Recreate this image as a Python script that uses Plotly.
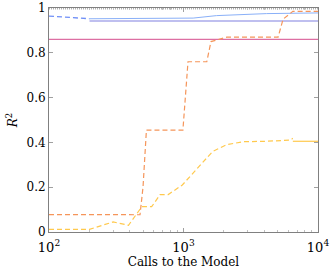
import plotly.graph_objects as go

# Blue (dashed part then solid part)
blue_dash_x = [100, 200]
blue_dash_y = [0.964, 0.952]
blue_x = [200, 600, 1180, 1760, 2500, 4150, 10000]
blue_y = [0.952, 0.952, 0.955, 0.966, 0.971, 0.975, 0.978]

purple_x = [200, 10000]
purple_y = [0.942, 0.942]

pink_x = [100, 10000]
pink_y = [0.86, 0.86]

gray_x = [100, 10000]
gray_y = [0.997, 0.997]

orange_x = [100, 475, 500, 530, 990, 1080, 1490, 1600, 2100, 5050, 5500, 6500, 7500, 10000]
orange_y = [0.078, 0.077, 0.2, 0.455, 0.455, 0.76, 0.76, 0.85, 0.87, 0.87, 0.95, 0.985, 0.985, 0.985]

yellow_x = [100, 200, 300, 390, 490, 580, 670, 770, 980, 1110, 1330, 1650, 2100, 2780, 4000, 6200, 6500]
yellow_y = [0.012, 0.012, 0.045, 0.03, 0.113, 0.113, 0.167, 0.167, 0.21, 0.247, 0.296, 0.36, 0.39, 0.403, 0.405, 0.41, 0.418]
yellow_solid_x = [6500, 10000]
yellow_solid_y = [0.405, 0.405]

DASH = "5px,3px"
fig = go.Figure()
fig.add_trace(go.Scatter(x=gray_x, y=gray_y, mode="lines", line=dict(color="#b0b0b0", width=1.5, dash="1px,1px")))
fig.add_trace(go.Scatter(x=pink_x, y=pink_y, mode="lines", line=dict(color="#dd6fa3", width=1.2)))
fig.add_trace(go.Scatter(x=purple_x, y=purple_y, mode="lines", line=dict(color="#8080e0", width=1.2)))
fig.add_trace(go.Scatter(x=blue_dash_x, y=blue_dash_y, mode="lines", line=dict(color="#6f8ff7", width=1.3, dash=DASH)))
fig.add_trace(go.Scatter(x=blue_x, y=blue_y, mode="lines", line=dict(color="#8ab0f8", width=1)))
fig.add_trace(go.Scatter(x=orange_x, y=orange_y, mode="lines", line=dict(color="#f5955a", width=1.2, dash=DASH)))
fig.add_trace(go.Scatter(x=yellow_x, y=yellow_y, mode="lines", line=dict(color="#ffc94d", width=1.2, dash=DASH)))
fig.add_trace(go.Scatter(x=yellow_solid_x, y=yellow_solid_y, mode="lines", line=dict(color="#ffc94d", width=1.2)))

font = "DejaVu Serif"
fig.update_layout(
    width=333, height=273,
    margin=dict(l=49, r=15, t=8, b=41, autoexpand=False),
    plot_bgcolor="white", paper_bgcolor="white",
    showlegend=False,
    font=dict(family=font, size=12, color="black"),
)
fig.update_xaxes(
    type="log", range=[2, 4], automargin=False,
    tickvals=[100, 1000, 10000], ticktext=["10<sup>2</sup>", "10<sup>3</sup>", "10<sup>4</sup>"],
    ticks="inside", ticklen=4, tickcolor="#a0a0a0", ticklabelstandoff=3,
    minor=dict(ticks="inside", ticklen=2, tickcolor="#c0c0c0", dtick="D1"),
    showline=True, linecolor="#808080", linewidth=1, mirror="ticks",
    showgrid=False, zeroline=False,
    title=dict(text="Calls to the Model", font=dict(size=12), standoff=4),
    tickfont=dict(size=13),
)
fig.update_yaxes(
    range=[0, 1], automargin=False,
    tickvals=[0, 0.2, 0.4, 0.6, 0.8, 1], ticktext=["0", "0.2", "0.4", "0.6", "0.8", "1"],
    ticks="inside", ticklen=4, tickcolor="#a0a0a0",
    showline=True, linecolor="#808080", linewidth=1, mirror="ticks",
    showgrid=False, zeroline=False,
    title=dict(text="<i>R</i><sup>2</sup>", font=dict(size=12), standoff=6),
    tickfont=dict(size=12),
)
fig.write_html("out.html", config={"displayModeBar": False},
               post_script="document.body.style.margin='0px';document.body.style.overflow='hidden';")
